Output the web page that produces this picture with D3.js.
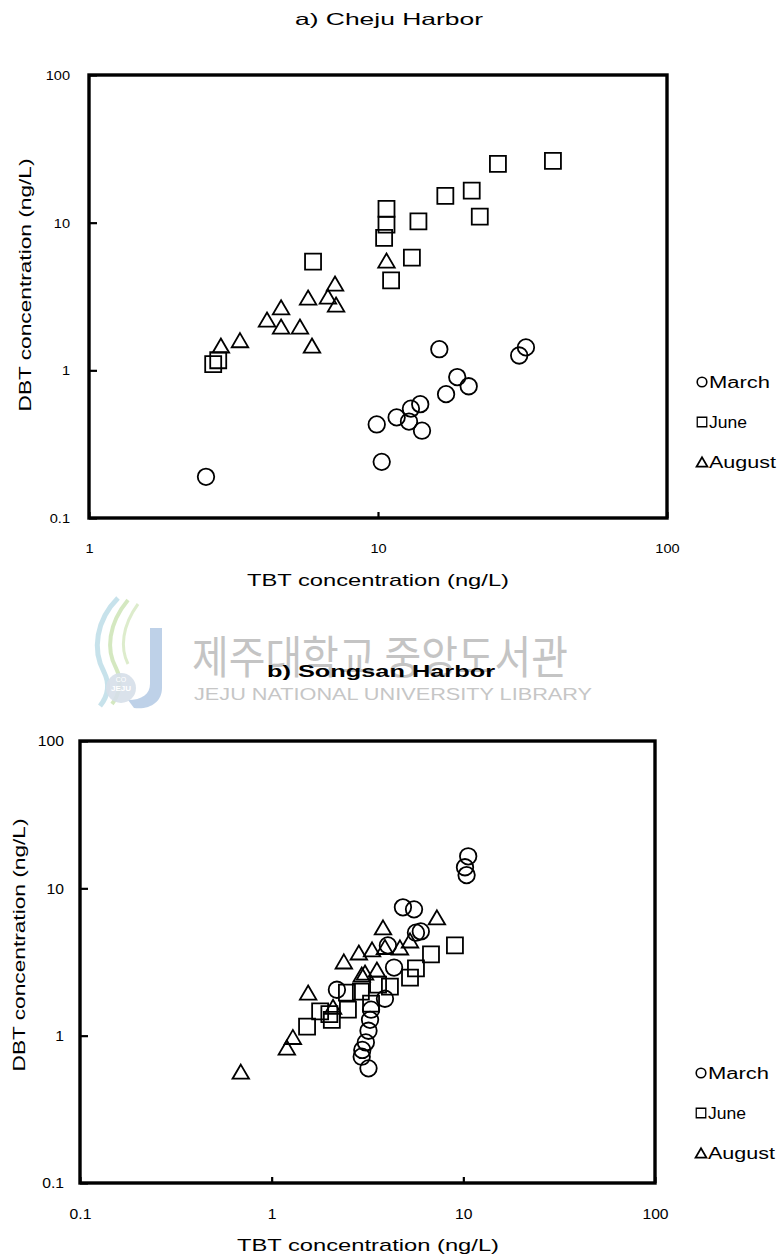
<!DOCTYPE html>
<html>
<head>
<meta charset="utf-8">
<script src="https://cdn.jsdelivr.net/npm/d3@7"></script>
<style>
  html, body { margin: 0; padding: 0; background: #fff; }
  svg { display: block; }
  text { font-family: "Liberation Sans", Arial, sans-serif; fill: #000; }
</style>
</head>
<body>
<svg id="fig" width="782" height="1258"></svg>
<script>
// ---- Cheju Harbor: [TBT, DBT] in ng/L ----
const chejuMarch = [
  [16.3, 1.39], [30.8, 1.26], [32.5, 1.43], [18.8, 0.90], [20.6, 0.78],
  [17.2, 0.69], [14.0, 0.59], [13.0, 0.55], [11.6, 0.48], [12.8, 0.45],
  [14.2, 0.39], [9.9, 0.43], [10.3, 0.24], [2.54, 0.19]
];
const chejuJune = [
  [26.0, 25.0], [40.3, 26.2], [17.1, 15.2], [21.1, 16.5], [22.5, 11.0],
  [10.7, 12.4], [10.7, 9.7], [13.8, 10.2], [10.5, 7.9], [13.1, 5.8],
  [11.1, 4.06], [5.96, 5.45], [2.69, 1.10], [2.80, 1.17]
];
const chejuAugust = [
  [7.10, 3.87], [5.73, 3.11], [6.71, 3.16], [7.16, 2.79], [4.62, 2.67],
  [4.13, 2.21], [4.62, 1.98], [5.37, 1.98], [5.91, 1.47], [3.33, 1.60],
  [2.86, 1.47], [10.7, 5.54]
];

// ---- Songsan Harbor: [TBT, DBT] in ng/L ----
const songsanMarch = [
  [10.6, 16.5], [10.2, 13.9], [10.4, 12.3], [4.84, 7.43], [5.53, 7.2],
  [6.0, 5.1], [5.66, 5.0], [4.04, 4.1], [4.35, 2.9], [2.19, 2.05],
  [3.26, 1.28], [3.2, 1.08], [3.1, 0.90], [2.97, 0.80], [2.95, 0.72],
  [3.2, 0.60], [3.9, 1.78], [3.3, 1.5]
];
const songsanJune = [
  [9.04, 4.1], [6.78, 3.56], [5.66, 2.86], [5.27, 2.48], [4.14, 2.15],
  [3.59, 2.22], [2.92, 1.99], [2.47, 1.96], [2.50, 1.50], [1.79, 1.46],
  [2.06, 1.28], [1.53, 1.15], [3.3, 1.65], [2.0, 1.40]
];
const songsanAugust = [
  [7.28, 6.35], [3.81, 5.43], [5.27, 4.43], [4.67, 3.97], [3.34, 3.85],
  [2.85, 3.67], [2.38, 3.19], [3.07, 2.68], [3.54, 2.81], [1.55, 1.96],
  [2.09, 1.57], [1.29, 0.98], [1.20, 0.83], [0.69, 0.57], [2.95, 2.6],
  [3.9, 4.0]
];

const monthNames = ["March", "June", "August"];
const legendWidths = [61, 38, 67];
const tickFmt = d => (d < 1 ? "0.1" : String(d));

const svg = d3.select("#fig");

// stretch a text element to a given advance width
function fit(sel, w) {
  return sel.attr("textLength", w).attr("lengthAdjust", "spacingAndGlyphs");
}

// ---- library watermark behind the lower panel ----
const wm = svg.append("g").attr("class", "watermark");
wm.append("path")
  .attr("d", "M118,598 C96,620 92,650 104,672 C110,684 108,696 100,706")
  .attr("fill", "none").attr("stroke", "#b9dbe6").attr("stroke-width", 5).attr("opacity", 0.8);
wm.append("path")
  .attr("d", "M128,600 C108,624 106,650 116,668 C122,680 120,694 112,704")
  .attr("fill", "none").attr("stroke", "#c9e2b0").attr("stroke-width", 4).attr("opacity", 0.8);
wm.append("path")
  .attr("d", "M138,604 C122,626 120,648 128,664")
  .attr("fill", "none").attr("stroke", "#d4e7bf").attr("stroke-width", 3).attr("opacity", 0.8);
wm.append("path")
  .attr("d", "M150,628 L162,628 L162,688 C162,702 150,710 134,708 L128,700 C142,700 150,694 150,684 Z")
  .attr("fill", "#aec6e2").attr("opacity", 0.8);
wm.append("circle").attr("cx", 121).attr("cy", 688).attr("r", 15)
  .attr("fill", "#d6dfe9").attr("opacity", 0.9);
wm.append("text").attr("x", 121).attr("y", 691).attr("text-anchor", "middle")
  .style("font-size", "8px").style("font-weight", "bold").style("fill", "#ffffff").text("JEJU");
wm.append("text").attr("x", 121).attr("y", 682).attr("text-anchor", "middle")
  .style("font-size", "7px").style("fill", "#ffffff").text("CO");
fit(wm.append("text").attr("x", 192).attr("y", 674)
  .style("font-family", "'Noto Sans CJK KR', sans-serif")
  .style("font-size", "45px").style("fill", "#c4c4c4")
  .text("제주대학교 중앙도서관"), 376);
fit(wm.append("text").attr("x", 194).attr("y", 700)
  .style("font-size", "17px").style("fill", "#c6c6c6")
  .text("JEJU NATIONAL UNIVERSITY    LIBRARY"), 398);

// ---- marker shapes, centred on a data point ----
function markerPath(shape, x, y, s) {
  const h = s / 2;
  if (shape === "square") {
    return `M${x - h},${y - h}h${s}v${s}h${-s}Z`;
  }
  const tw = s * 0.55, th = s * 0.47;
  return `M${x},${y - th}L${x + tw},${y + th}L${x - tw},${y + th}Z`;
}

function drawMarkers(g, data, shape, xs, ys, size) {
  if (shape === "circle") {
    g.selectAll(null).data(data).enter().append("circle")
      .attr("cx", d => xs(d[0])).attr("cy", d => ys(d[1]))
      .attr("r", size / 2)
      .attr("fill", "none").attr("stroke", "#000").attr("stroke-width", 1.8);
  } else {
    g.selectAll(null).data(data).enter().append("path")
      .attr("d", d => markerPath(shape, xs(d[0]), ys(d[1]), size))
      .attr("fill", "none").attr("stroke", "#000").attr("stroke-width", 1.8)
      .attr("stroke-linejoin", "miter");
  }
}

function drawPanel(cfg) {
  const g = svg.append("g");
  const x = d3.scaleLog().domain(cfg.xDomain).range([cfg.left, cfg.right]);
  const y = d3.scaleLog().domain([0.1, 100]).range([cfg.bottom, cfg.top]);

  // title
  fit(g.append("text").attr("x", cfg.titleX).attr("y", cfg.titleY)
    .attr("text-anchor", "middle")
    .style("font-size", cfg.titleSize + "px").style("font-weight", cfg.titleWeight)
    .text(cfg.title), cfg.titleW);

  // axes: decade ticks pointing into the plot
  const xAxis = d3.axisBottom(x).tickValues(cfg.xTicks).tickSize(-6).tickPadding(26).tickFormat(tickFmt);
  const yAxis = d3.axisLeft(y).tickValues([0.1, 1, 10, 100]).tickSize(-8).tickPadding(cfg.yPad).tickFormat(tickFmt);

  const gx = g.append("g").attr("transform", `translate(0,${cfg.bottom})`).call(xAxis);
  const gy = g.append("g").attr("transform", `translate(${cfg.left},0)`).call(yAxis);
  [gx, gy].forEach(a => {
    a.select(".domain").remove();
    a.selectAll(".tick line").attr("stroke", "#000").attr("stroke-width", 2.2);
    a.selectAll(".tick text")
      .style("font-size", cfg.tickSize + "px")
      .style("font-family", "'Liberation Sans', Arial, sans-serif")
      .attr("fill", "#111");
    a.selectAll(".tick text").each(function () {
      fit(d3.select(this), this.getComputedTextLength() * 1.12);
    });
  });
  gy.selectAll(".tick text").attr("dy", "0.35em");

  // plot frame
  g.append("rect")
    .attr("x", cfg.left).attr("y", cfg.top)
    .attr("width", cfg.right - cfg.left).attr("height", cfg.bottom - cfg.top)
    .attr("fill", "none").attr("stroke", "#000").attr("stroke-width", 3.4);

  // axis titles
  fit(g.append("text").attr("x", cfg.xTitleX).attr("y", cfg.xTitleY)
    .attr("text-anchor", "middle").style("font-size", "17px")
    .text("TBT concentration (ng/L)"), 262);
  fit(g.append("text")
    .attr("transform", `translate(${cfg.yTitleX},${cfg.yTitleY}) rotate(-90)`)
    .attr("text-anchor", "middle").style("font-size", "17px")
    .text("DBT concentration (ng/L)"), 253);

  // points
  const pts = g.append("g");
  drawMarkers(pts, cfg.march, "circle", x, y, 16.5);
  drawMarkers(pts, cfg.june, "square", x, y, 16);
  drawMarkers(pts, cfg.august, "triangle", x, y, 15);

  // legend
  const lg = g.append("g");
  const shapes = ["circle", "square", "triangle"];
  monthNames.forEach((name, i) => {
    const ly = cfg.legendY + i * 40;
    const lx = cfg.legendX;
    if (shapes[i] === "circle") {
      lg.append("circle").attr("cx", lx).attr("cy", ly).attr("r", 4.8)
        .attr("fill", "none").attr("stroke", "#000").attr("stroke-width", 1.6);
    } else if (shapes[i] === "square") {
      lg.append("path").attr("d", markerPath("square", lx, ly, 9.5))
        .attr("fill", "none").attr("stroke", "#000").attr("stroke-width", 1.3);
    } else {
      lg.append("path").attr("d", markerPath("triangle", lx, ly, 10))
        .attr("fill", "none").attr("stroke", "#000").attr("stroke-width", 1.7);
    }
    fit(lg.append("text").attr("x", lx + 7).attr("y", ly + 6)
      .style("font-size", "16px").text(name), legendWidths[i]);
  });
}

drawPanel({
  title: "a) Cheju Harbor", titleX: 389, titleY: 25, titleSize: 16.5, titleWeight: "normal", titleW: 188,
  xDomain: [1, 100], xTicks: [1, 10, 100], tickSize: 13, yPad: 19,
  left: 89, right: 667, top: 75, bottom: 518,
  xTitleX: 378, xTitleY: 586, yTitleX: 31, yTitleY: 285,
  march: chejuMarch, june: chejuJune, august: chejuAugust,
  legendX: 702, legendY: 382
});

drawPanel({
  title: "b) Songsan Harbor", titleX: 381, titleY: 677, titleSize: 17, titleWeight: "bold", titleW: 228,
  xDomain: [0.1, 100], xTicks: [0.1, 1, 10, 100], tickSize: 14, yPad: 16,
  left: 80, right: 655, top: 741, bottom: 1183,
  xTitleX: 368, xTitleY: 1251, yTitleX: 25, yTitleY: 945,
  march: songsanMarch, june: songsanJune, august: songsanAugust,
  legendX: 701, legendY: 1073
});
</script>
</body>
</html>
